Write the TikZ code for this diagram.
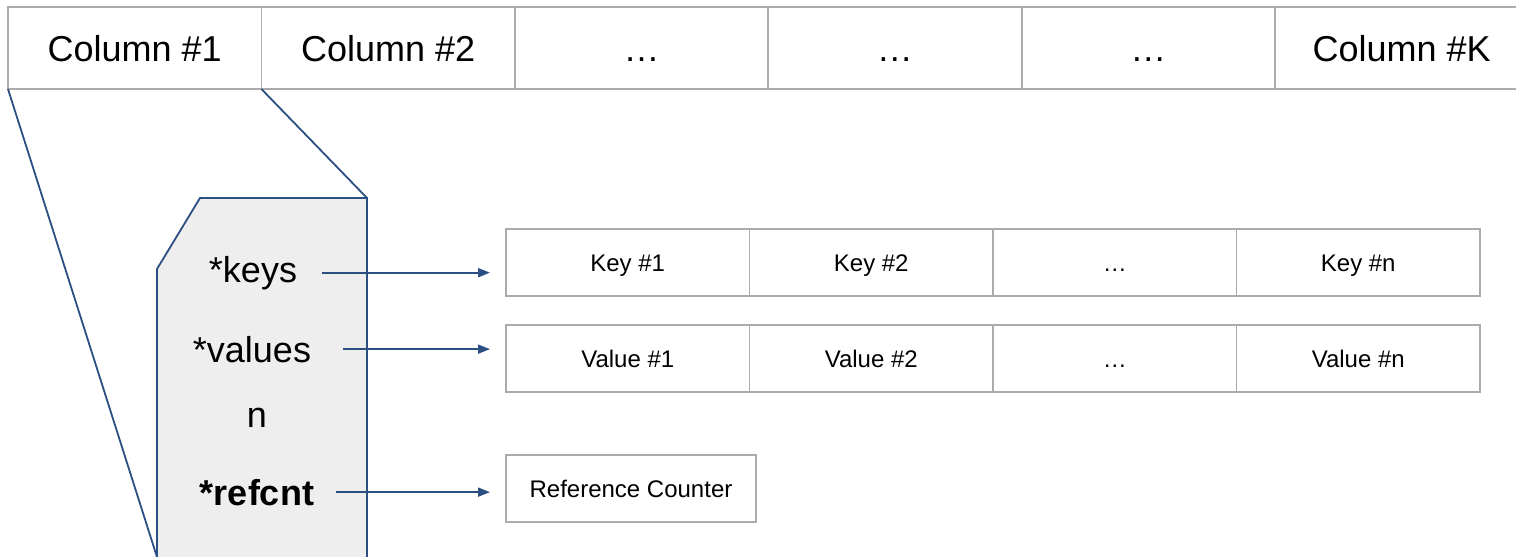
\documentclass[tikz,border=0pt]{standalone}
\usepackage{fontspec}
\setmainfont{Liberation Sans}
\usetikzlibrary{positioning, arrows.meta}
\definecolor{linegray}{HTML}{ABABAB}
\definecolor{boxfill}{HTML}{EEEEEE}
\definecolor{navy}{HTML}{2B4F82}

\begin{document}
\begin{tikzpicture}[x=1pt, y=-1pt, every node/.style={outer sep=0pt},
    colcell/.style={draw=linegray, line width=1.8pt, minimum width=253.4pt, minimum height=82pt, text height=26pt, text depth=0pt, font=\fontsize{36}{43}\selectfont},
    kvcell/.style={draw=linegray, line width=1.8pt, minimum width=243.5pt, minimum height=67pt, text height=17.3pt, text depth=0pt, font=\fontsize{24}{29}\selectfont},
    field/.style={inner sep=0pt, anchor=base, font=\fontsize{36}{43}\selectfont},
    ptr/.style={draw=navy, line width=1.8pt, -{Triangle[length=12pt, width=9pt]}}]
    \clip (0,0) rectangle (1516,557);
    % column row
    \node [colcell] (c1) at (134.7,48) {Column \#1};
    \node [colcell, right=0pt of c1] (c2) {Column \#2};
    \node [colcell, right=0pt of c2] (c3) {…};
    \node [colcell, right=0pt of c3] (c4) {…};
    \node [colcell, right=0pt of c4] (c5) {…};
    \node [colcell, right=0pt of c5] (c6) {Column \#K};
    % zoomed column struct
    \coordinate (sbl) at (157,557);
    \coordinate (scut) at (157,269);
    \coordinate (stl) at (200,198);
    \coordinate (str) at (367,198);
    \filldraw [fill=boxfill, draw=navy, line width=1.8pt] (157,565) -- (scut) -- (stl) -- (str) -- (367,565) -- cycle;
    \draw [navy, line width=1.8pt] (c1.south west) -- (sbl);
    \draw [navy, line width=1.8pt] (c1.south east) -- (str);
    \node [field] (keys) at (253,282) {*keys};
    \node [field] (vals) at (252,362) {*values};
    \node [field] (cnt) at (257,427) {n};
    \node [field, font=\fontsize{36}{43}\selectfont\bfseries] (refs) at (257,505) {*refcnt};
    % keys and values
    \node [kvcell] (k1) at (627.75,262.5) {Key \#1};
    \node [kvcell, right=0pt of k1] (k2) {Key \#2};
    \node [kvcell, right=0pt of k2] (k3) {…};
    \node [kvcell, right=0pt of k3] (k4) {Key \#n};
    \node [kvcell] (v1) at (627.75,358.5) {Value \#1};
    \node [kvcell, right=0pt of v1] (v2) {Value \#2};
    \node [kvcell, right=0pt of v2] (v3) {…};
    \node [kvcell, right=0pt of v3] (v4) {Value \#n};
    \node [kvcell, minimum width=250pt] (rc) at (631,488.5) {Reference Counter};
    % pointers
    \draw [ptr, shorten <=25pt, shorten >=16pt] (keys.east) -- (keys.east -| k1.west);
    \draw [ptr, shorten <=32pt, shorten >=16pt] (vals.east) -- (vals.east -| v1.west);
    \draw [ptr, shorten <=22pt, shorten >=16pt] (refs.east) -- (refs.east -| rc.west);
\end{tikzpicture}
\end{document}
